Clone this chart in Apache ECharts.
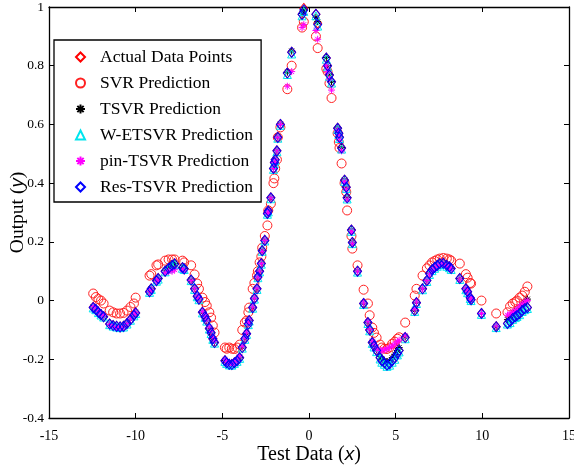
<!DOCTYPE html>
<html>
<head>
<meta charset="utf-8">
<script src="https://cdn.jsdelivr.net/npm/echarts@6/dist/echarts.min.js"></script>
<style>html,body{margin:0;padding:0;background:#fff;}#c{width:574px;height:465px;}</style>
</head>
<body>
<div id="c"></div>
<script>
var xs = [-12.45,-12.3,-12.15,-12.0,-11.85,-11.5,-11.3,-11.1,-10.9,-10.7,-10.5,-10.3,-10.1,-10.0,
  -9.2,-9.1,-8.8,-8.7,-8.3,-8.1,-7.9,-7.75,-7.3,-7.2,-6.8,-6.6,-6.45,-6.35,-6.15,-6.0,-5.9,-5.75,-5.65,-5.55,-5.45,
  -4.85,-4.75,-4.6,-4.45,-4.3,-4.15,-4.0,-3.85,-3.7,-3.6,-3.5,-3.45,-3.25,-3.15,-3.0,-2.95,-2.85,-2.75,-2.7,-2.55,
  -2.4,-2.35,-2.2,-2.05,-2.0,-1.95,-1.85,-1.8,-1.65,-1.25,-1.0,-0.4,-0.3,0.4,0.5,1.0,1.07,1.18,1.3,1.65,1.72,1.76,1.88,
  2.05,2.15,2.2,2.45,2.5,2.8,3.15,3.4,3.5,3.65,3.75,3.9,4.1,4.2,4.35,4.5,4.65,4.8,4.95,5.1,5.2,5.55,6.1,6.2,6.55,
  6.8,6.95,7.1,7.25,7.4,7.55,7.75,7.95,8.1,8.2,8.7,9.05,9.15,9.3,9.35,9.95,10.8,11.45,11.6,11.75,11.9,12.0,12.15,12.3,12.45,12.6];

var actualY = [-0.023,-0.030,-0.040,-0.048,-0.055,-0.080,-0.085,-0.088,-0.090,-0.088,-0.078,-0.065,-0.050,-0.042,
  0.030,0.040,0.068,0.075,0.100,0.110,0.120,0.125,0.112,0.108,0.070,0.040,0.015,0.005,-0.040,-0.055,-0.068,-0.095,-0.110,-0.130,-0.143,
  -0.205,-0.212,-0.217,-0.218,-0.212,-0.205,-0.195,-0.160,-0.130,-0.113,-0.080,-0.068,-0.024,0.007,0.040,0.080,0.100,0.126,0.170,0.205,
  0.297,0.305,0.350,0.450,0.470,0.480,0.510,0.556,0.600,0.775,0.846,0.975,0.995,0.975,0.945,0.826,0.800,0.768,0.745,0.587,0.570,0.556,0.520,
  0.410,0.386,0.350,0.240,0.198,0.100,-0.010,-0.075,-0.100,-0.143,-0.155,-0.170,-0.195,-0.205,-0.212,-0.218,-0.215,-0.205,-0.195,-0.180,
  -0.170,-0.126,-0.034,-0.007,0.040,0.068,0.092,0.105,0.113,0.120,0.126,0.127,0.120,0.115,0.109,0.075,0.040,0.030,0.010,0.003,
  -0.044,-0.089,-0.078,-0.072,-0.061,-0.055,-0.051,-0.045,-0.034,-0.028,-0.024];

var svrY = [0.024,0.012,0.005,0.000,-0.010,-0.034,-0.040,-0.044,-0.044,-0.042,-0.034,-0.022,-0.010,0.010,
  0.085,0.090,0.120,0.123,0.136,0.140,0.140,0.140,0.136,0.130,0.120,0.089,0.058,0.040,0.010,-0.005,-0.017,-0.040,-0.058,-0.085,-0.109,
  -0.160,-0.164,-0.160,-0.164,-0.165,-0.160,-0.150,-0.100,-0.075,-0.068,-0.040,-0.024,0.040,0.060,0.085,0.100,0.130,0.150,0.180,0.220,
  0.256,0.307,0.330,0.400,0.416,0.450,0.480,0.556,0.590,0.720,0.800,0.930,0.950,0.900,0.860,0.790,0.780,0.740,0.690,0.570,0.540,0.520,0.467,
  0.400,0.370,0.307,0.220,0.177,0.120,0.037,-0.010,-0.050,-0.092,-0.110,-0.126,-0.150,-0.160,-0.164,-0.165,-0.160,-0.147,-0.140,-0.130,
  -0.125,-0.075,0.017,0.040,0.085,0.110,0.120,0.130,0.135,0.140,0.143,0.145,0.143,0.140,0.136,0.126,0.090,0.078,0.060,0.058,
  0.000,-0.044,-0.040,-0.020,-0.010,-0.005,0.000,0.010,0.017,0.030,0.048];

var tsvrY = [-0.022,-0.029,-0.039,-0.047,-0.054,-0.081,-0.086,-0.090,-0.092,-0.089,-0.077,-0.064,-0.049,-0.041,
  0.031,0.040,0.068,0.075,0.102,0.112,0.122,0.127,0.113,0.109,0.070,0.041,0.015,0.005,-0.040,-0.055,-0.068,-0.094,-0.110,-0.129,-0.142,
  -0.204,-0.211,-0.216,-0.217,-0.211,-0.204,-0.193,-0.158,-0.129,-0.112,-0.079,-0.067,-0.023,0.008,0.041,0.081,0.101,0.127,0.171,0.206,
  0.298,0.306,0.351,0.451,0.471,0.481,0.511,0.557,0.601,0.778,0.850,0.978,0.990,0.965,0.950,0.828,0.801,0.769,0.746,0.588,0.571,0.557,0.521,
  0.411,0.387,0.351,0.241,0.199,0.101,-0.009,-0.074,-0.099,-0.142,-0.154,-0.168,-0.190,-0.198,-0.205,-0.210,-0.205,-0.195,-0.183,-0.170,
  -0.160,-0.124,-0.033,-0.006,0.041,0.069,0.092,0.105,0.113,0.120,0.126,0.127,0.120,0.115,0.109,0.075,0.040,0.030,0.010,0.003,
  -0.044,-0.089,-0.065,-0.058,-0.048,-0.040,-0.035,-0.028,-0.018,-0.008,0.005];

var wetsvrY = [-0.025,-0.031,-0.041,-0.049,-0.056,-0.082,-0.087,-0.090,-0.092,-0.090,-0.080,-0.067,-0.052,-0.044,
  0.028,0.038,0.066,0.073,0.098,0.108,0.118,0.123,0.110,0.106,0.068,0.038,0.013,0.003,-0.042,-0.057,-0.070,-0.097,-0.112,-0.132,-0.145,
  -0.207,-0.214,-0.219,-0.220,-0.214,-0.207,-0.197,-0.162,-0.132,-0.115,-0.082,-0.070,-0.026,0.005,0.038,0.078,0.098,0.124,0.168,0.203,
  0.294,0.302,0.347,0.447,0.467,0.477,0.507,0.553,0.597,0.770,0.840,0.970,0.985,0.970,0.935,0.822,0.796,0.764,0.741,0.583,0.566,0.552,0.516,
  0.406,0.382,0.346,0.236,0.194,0.097,-0.013,-0.078,-0.103,-0.146,-0.158,-0.174,-0.199,-0.210,-0.217,-0.224,-0.220,-0.210,-0.200,-0.185,
  -0.175,-0.130,-0.037,-0.010,0.037,0.065,0.089,0.102,0.110,0.117,0.123,0.124,0.117,0.112,0.106,0.072,0.037,0.027,0.007,0.000,
  -0.047,-0.092,-0.080,-0.075,-0.064,-0.058,-0.054,-0.048,-0.037,-0.031,-0.027];

var pinY = [-0.020,-0.028,-0.038,-0.046,-0.052,-0.082,-0.088,-0.092,-0.094,-0.090,-0.078,-0.063,-0.048,-0.040,
  0.030,0.038,0.066,0.072,0.095,0.100,0.100,0.105,0.105,0.104,0.068,0.040,0.016,0.006,-0.038,-0.052,-0.066,-0.090,-0.105,-0.125,-0.138,
  -0.200,-0.208,-0.214,-0.216,-0.210,-0.203,-0.190,-0.156,-0.128,-0.110,-0.078,-0.066,-0.022,0.008,0.042,0.080,0.100,0.126,0.168,0.205,
  0.297,0.305,0.350,0.450,0.470,0.480,0.510,0.556,0.600,0.730,0.780,0.930,0.940,0.920,0.890,0.800,0.780,0.755,0.717,0.580,0.565,0.550,0.510,
  0.405,0.380,0.345,0.235,0.195,0.100,-0.008,-0.072,-0.098,-0.138,-0.150,-0.165,-0.170,-0.170,-0.168,-0.165,-0.160,-0.155,-0.148,-0.140,
  -0.135,-0.120,-0.030,-0.005,0.040,0.068,0.090,0.103,0.112,0.118,0.124,0.125,0.118,0.113,0.107,0.073,0.040,0.030,0.010,0.003,
  -0.044,-0.087,-0.050,-0.045,-0.040,-0.035,-0.030,-0.020,-0.012,-0.005,0.000];

var resY = [-0.024,-0.030,-0.040,-0.048,-0.055,-0.080,-0.085,-0.088,-0.090,-0.088,-0.078,-0.065,-0.050,-0.042,
  0.030,0.040,0.068,0.075,0.100,0.110,0.120,0.125,0.112,0.108,0.070,0.040,0.015,0.005,-0.040,-0.055,-0.068,-0.095,-0.110,-0.130,-0.143,
  -0.205,-0.212,-0.217,-0.218,-0.212,-0.205,-0.195,-0.160,-0.130,-0.113,-0.080,-0.068,-0.024,0.007,0.040,0.080,0.100,0.126,0.170,0.205,
  0.297,0.305,0.350,0.450,0.470,0.480,0.510,0.556,0.600,0.775,0.846,0.975,0.990,0.975,0.940,0.826,0.800,0.768,0.745,0.587,0.570,0.556,0.520,
  0.410,0.386,0.350,0.240,0.198,0.100,-0.010,-0.075,-0.100,-0.143,-0.155,-0.170,-0.195,-0.205,-0.212,-0.220,-0.215,-0.205,-0.195,-0.180,
  -0.170,-0.126,-0.034,-0.007,0.040,0.068,0.092,0.105,0.113,0.120,0.126,0.127,0.120,0.115,0.109,0.075,0.040,0.030,0.010,0.003,
  -0.044,-0.089,-0.078,-0.072,-0.061,-0.055,-0.051,-0.045,-0.034,-0.028,-0.024];

var xTicks = {min: -15, max: 15, interval: 5};
var yTicks = {min: -0.4, max: 1, interval: 0.2};
var seriesNames = ['Actual Data Points','SVR Prediction','TSVR Prediction','W-ETSVR Prediction','pin-TSVR Prediction','Res-TSVR Prediction'];

function zip(ys){ var out=[]; for (var i=0;i<xs.length;i++) out.push([xs[i], ys[i]]); return out; }

var asterisk = 'path://M0,5L10,5M5,0L5,10M1.5,1.5L8.5,8.5M8.5,1.5L1.5,8.5';
var serif = '"Liberation Serif","Times New Roman",serif';

function mk(name, ys, symbol, size, color, bw){
  return {
    name: name, type: 'scatter', data: zip(ys), symbol: symbol, symbolSize: size,
    itemStyle: {color: 'rgba(0,0,0,0)', borderColor: color, borderWidth: bw || 1, opacity: 1},
    emphasis: {disabled: true}, animation: false
  };
}

var chart = echarts.init(document.getElementById('c'), null, {renderer: 'canvas'});
var axisCommon = {
  axisLine: {show: true, onZero: false, lineStyle: {color: '#000', width: 1.3}},
  axisTick: {show: true, inside: true, length: 5, lineStyle: {color: '#000', width: 1}},
  splitLine: {show: false}
};
chart.setOption({
  animation: false,
  backgroundColor: '#fff',
  grid: {left: 49, right: 5, top: 7, bottom: 47, containLabel: false, outerBoundsMode: 'none'},
  legend: {
    orient: 'vertical', left: 54, top: 40,
    data: seriesNames,
    backgroundColor: '#fff', borderColor: '#000', borderWidth: 1.3,
    padding: [8, 8, 6, 21], itemGap: 8, itemWidth: 9, itemHeight: 9,
    textStyle: {fontFamily: serif, fontSize: 17.5, color: '#000', padding: [0,0,0,10]},
    selectedMode: false
  },
  xAxis: [
    Object.assign({type: 'value', position: 'bottom', min: xTicks.min, max: xTicks.max, interval: xTicks.interval,
      axisLabel: {fontFamily: serif, fontSize: 14, color: '#000', margin: 11},
      name: 'Test Data ({i|x})', nameLocation: 'middle', nameGap: 27, nameMoveOverlap: false,
      nameTextStyle: {fontFamily: serif, fontSize: 20, color: '#000',
        rich: {i: {fontFamily: '"Liberation Sans",Arial,sans-serif', fontStyle: 'italic', fontSize: 19, color: '#000'}}}
    }, axisCommon),
    Object.assign({type: 'value', position: 'top', min: xTicks.min, max: xTicks.max, interval: xTicks.interval,
      axisLabel: {show: false}}, axisCommon)
  ],
  yAxis: [
    Object.assign({type: 'value', position: 'left', min: yTicks.min, max: yTicks.max, interval: yTicks.interval,
      axisLabel: {fontFamily: serif, fontSize: 13.5, color: '#000', margin: 5},
      name: 'Output ({i|y})', nameLocation: 'middle', nameGap: 21, nameRotate: 90, nameMoveOverlap: false,
      nameTextStyle: {fontFamily: serif, fontSize: 19.5, color: '#000',
        rich: {i: {fontFamily: '"Liberation Sans",Arial,sans-serif', fontStyle: 'italic', fontSize: 18.5, color: '#000'}}}
    }, axisCommon),
    Object.assign({type: 'value', position: 'right', min: yTicks.min, max: yTicks.max, interval: yTicks.interval,
      axisLabel: {show: false}}, axisCommon)
  ],
  series: [
    mk(seriesNames[0], actualY, 'diamond', [8, 10], '#ff0000'),
    mk(seriesNames[1], svrY, 'circle', 9, '#ff2020'),
    mk(seriesNames[2], tsvrY, asterisk, 7, '#000000'),
    mk(seriesNames[3], wetsvrY, 'triangle', 8, '#00e5ee'),
    mk(seriesNames[4], pinY, asterisk, 7, '#ff00ff'),
    mk(seriesNames[5], resY, 'diamond', [8, 10], '#0000ff')
  ]
});
</script>
</body>
</html>
